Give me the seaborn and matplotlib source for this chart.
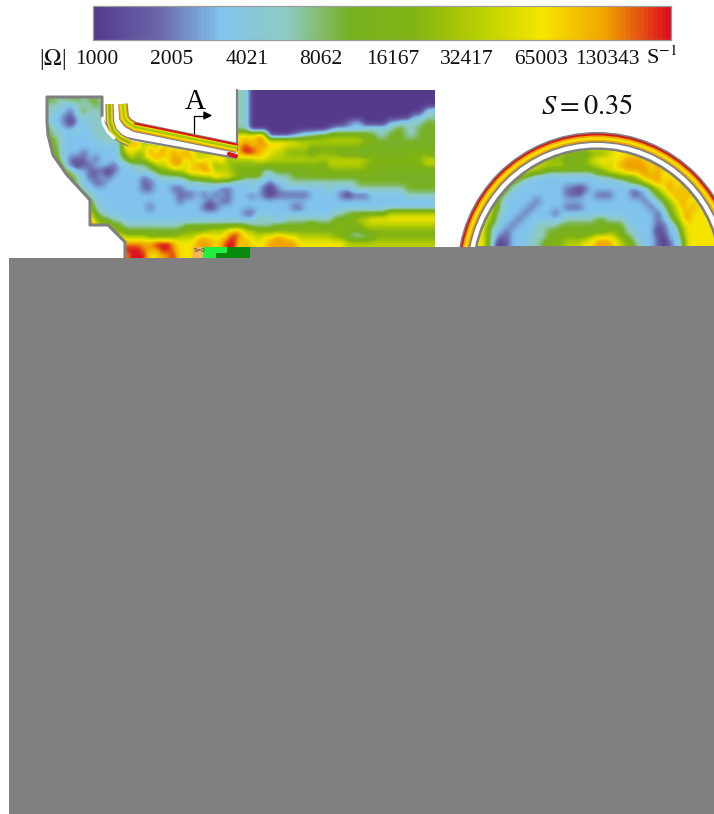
import numpy as np
import matplotlib
matplotlib.use('Agg')
import matplotlib.pyplot as plt
from matplotlib.colors import LinearSegmentedColormap
from matplotlib.patches import Circle, Polygon, Rectangle
import seaborn as sns

sns.set_theme(style="white")
plt.rcParams['font.family'] = ['Liberation Serif', 'DejaVu Serif']
plt.rcParams['mathtext.fontset'] = 'stix'

W, H = 714, 814

# vorticity levels: 0 = 1000 s-1 ... 9 = above 130343 s-1
tick_labels = ['1000', '2005', '4021', '8062', '16167', '32417', '65003', '130343']
tick_x = [97, 172, 247, 321, 393, 467, 541, 607]

section_rows = [
    "33333 33333 33333 33333 33333 33333 33330 00000 00000 00000 00000 00000 00000",
    "44344 43443 33333 33333 33333 33333 33330 00000 00000 00000 00000 00000 00000",
    "33322 33343 33333 33333 33333 33333 33330 00000 00000 00000 00000 00000 00000",
    "33221 34333 33333 33333 33333 33333 33330 00000 00000 00000 00000 00000 00023",
    "32211 23233 33333 33333 33333 33333 33330 00000 00000 00000 00000 00000 02233",
    "32210 22333 33333 33333 33333 33333 33330 00000 00000 00000 12200 00223 33344",
    "43222 32233 33333 33333 33333 33333 33330 00000 00000 00122 22233 33344 33444",
    "43322 22233 33388 77777 77777 77777 77777 88000 01233 44555 55544 33444 33444",
    "54322 22223 33378 75555 77777 77777 77787 88777 77666 66666 66655 44444 44444",
    "54322 22222 22387 86868 77777 77777 77898 88777 66665 55555 55544 44444 44444",
    "65322 21222 22367 56878 78787 66677 77899 87766 55554 55554 44435 44444 55554",
    "76321 11212 22346 56787 78878 67778 56666 77666 66666 66666 66665 55555 55566",
    "77521 01122 21223 33466 78867 88756 65555 55555 55555 54666 66655 55555 55566",
    "87643 22111 01222 33345 56678 78866 65555 53344 44445 55555 55555 44444 44444",
    "87654 32112 12222 21223 33345 66687 76544 43233 34444 44444 44444 44444 44444",
    "99865 32211 22222 21122 22223 23333 32222 22122 33333 33333 33444 44444 44444",
    "99976 43222 22222 21122 21122 22221 12223 21012 22222 22322 23333 33333 44444",
    "99987 54322 22222 22222 22111 21212 12221 21011 11112 22221 01112 22222 33333",
    "99998 65432 22222 22222 22122 22121 12222 22222 22222 22222 22222 22222 22222",
    "99999 87532 22222 22122 22222 21012 22222 22222 21122 22222 22222 22222 22222",
    "99999 88743 22222 22222 22222 22222 22211 22222 22222 22233 44444 44666 66666",
    "99999 88854 43322 22222 22222 22222 22222 33322 33333 33344 45667 77777 77777",
    "99999 99975 54433 33333 33344 44444 44443 33344 44445 44455 55566 66666 66666",
    "99999 99987 65544 44444 44455 55666 78866 55555 55555 55555 44455 55555 55555",
    "99999 99998 87766 66555 55666 78777 89877 67788 77666 66655 43334 55555 55555",
    "99999 99999 98888 88899 98777 88878 99787 77888 88777 77777 66666 66666 66666",
    "99999 99999 99899 98889 98777 88878 99787 77888 88777 77777 66666 66666 66666",
    "99999 99999 99789 99778 89777 88878 99787 77888 88777 77777 66666 66666 66666",
]

cross_rows = [
    "77777 77777 77777 77777 77777 77777 77777 77777 777",
    "77777 77777 77777 77777 77777 77777 77777 77777 777",
    "77777 77777 77777 77777 77777 77777 77777 77777 777",
    "77777 77777 77777 66655 44555 67777 77777 77777 777",
    "77777 77777 66666 55544 55677 77788 87877 77777 777",
    "77777 77777 77666 66655 55667 67888 88787 77777 777",
    "77777 77777 77665 44444 44455 77788 88787 77777 777",
    "66666 67766 54322 22222 22233 34555 78887 77877 777",
    "55555 77644 32222 22222 22222 22234 46787 87788 777",
    "55555 77643 22222 22211 01222 22221 22467 87877 777",
    "55555 66432 22222 22211 12211 12221 12346 78787 777",
    "66666 66322 22212 22222 22222 22222 21234 67877 777",
    "77777 75322 22122 22211 12222 22222 22123 56878 777",
    "77777 74322 21222 21222 22222 22222 22212 46787 777",
    "77777 64222 12222 22233 33344 33322 22212 35787 777",
    "77777 53221 22233 33444 44444 44432 22211 23677 777",
    "77777 42212 22233 44444 44444 55433 22201 22577 777",
    "77777 42112 22333 44555 55677 76543 22210 22477 777",
    "77777 41012 22334 55566 67788 87654 32210 12377 777",
]

# outlines in picture pixels
domain_x = [47, 47, 48, 53, 67, 90, 90, 108, 125, 125, 435, 435, 237, 237, 118, 108, 102, 102]
domain_y = [96, 122, 135, 155, 175, 200, 225, 225, 242, 258, 258, 90, 90, 158, 139, 131, 118, 96]
wall_x = [125, 125, 108, 90, 90, 67, 53, 48, 47, 47, 102, 102, 108, 116]
wall_y = [258, 242, 225, 225, 200, 175, 155, 135, 122, 97, 97, 118, 131, 139]
outer_x = [122.5, 124, 128, 135, 237]
outer_y = [104, 118, 123, 127, 148]
inner_x = [109.5, 110, 113, 120, 130]
inner_y = [104, 122, 131, 138, 143]


def to_field(rows):
    return np.array([[int(c) for c in r.replace(' ', '')] for r in rows], dtype=float)


section = to_field(section_rows)
cross = to_field(cross_rows)

colours = ['#553a8c', '#6a66aa', '#82c5ee', '#8fcbc4', '#78b020', '#80b414',
           '#b8cf02', '#f5e600', '#f0a400', '#dc1020']
omega = LinearSegmentedColormap.from_list('omega', colours, N=128)

fig = plt.figure(figsize=(W / 100, H / 100), dpi=100, facecolor='white')


def px_axes(x0, y0, x1, y1, **kw):
    return fig.add_axes([x0 / W, 1 - y1 / H, (x1 - x0) / W, (y1 - y0) / H], **kw)


overlay = px_axes(0, 0, W, H, zorder=5)
overlay.set_xlim(0, W)
overlay.set_ylim(H, 0)
overlay.axis('off')
overlay.patch.set_alpha(0)

# section view, colour bar comes with the heatmap
ax1 = px_axes(45, 90, 435, 258)
cax = px_axes(93, 6, 671, 40)
sns.heatmap(section, ax=ax1, cmap=omega, vmin=0, vmax=9, cbar_ax=cax,
            cbar_kws={'orientation': 'horizontal'}, xticklabels=False, yticklabels=False)
cax.set_xticks([])
for side in cax.spines.values():
    side.set_visible(True)
    side.set_edgecolor('#9a9a9a')
    side.set_linewidth(0.8)
smooth1 = ax1.imshow(section, cmap=omega, vmin=0, vmax=9, aspect='auto', interpolation='bicubic',
                     extent=(0, section.shape[1], section.shape[0], 0), zorder=3)
domain = Polygon(np.column_stack([domain_x, domain_y]), transform=overlay.transData)
ax1.collections[0].set_clip_path(domain)
smooth1.set_clip_path(domain)
ax1.axis('off')

# cross section A
ax2 = px_axes(456, 132, 714, 246)
sns.heatmap(cross, ax=ax2, cmap=omega, vmin=0, vmax=9, cbar=False, xticklabels=False, yticklabels=False)
smooth2 = ax2.imshow(cross, cmap=omega, vmin=0, vmax=9, aspect='auto', interpolation='bicubic',
                     extent=(0, cross.shape[1], cross.shape[0], 0), zorder=3)
disc = Circle((597, 272), 122, transform=overlay.transData)
ax2.collections[0].set_clip_path(disc)
smooth2.set_clip_path(disc)
ax2.axis('off')
ax2.set_zorder(6)

# rings of the cross section, outside to inside
rings = [(140, '#808080'), (138.4, '#d8141c'), (136.6, '#f0a000'), (134.8, '#f3e000'),
         (132.2, '#f0a800'), (130.6, '#808080'), (129, 'white'), (124.6, '#808080')]
for r, c in rings:
    overlay.add_patch(Circle((597, 272), r, facecolor=c, edgecolor='none', zorder=1))

# walls of the section view
overlay.plot(wall_x, wall_y, color='#808080', lw=2.2, solid_joinstyle='round', zorder=3)
overlay.plot([237, 237], [90, 150], color='#808080', lw=1.6, zorder=3)
for lw, c in [(7.4, '#808080'), (6.0, '#e8a000'), (4.2, '#f0e000'), (1.8, '#a8c808')]:
    overlay.plot(outer_x, outer_y, color=c, lw=lw, solid_capstyle='butt', zorder=3)
overlay.plot([135, 237], [123.6, 144.6], color='#d8141c', lw=1.4, zorder=3)
overlay.plot([116.5, 117.5, 124, 136, 236], [104, 120, 131, 137, 155.5], color='white', lw=2.4, zorder=3)
overlay.plot([127, 136, 236], [138, 140, 158], color='#808080', lw=1.6, zorder=3)
for lw, c in [(6.0, '#808080'), (4.4, '#f0d000'), (1.8, '#90b810')]:
    overlay.plot(inner_x, inner_y, color=c, lw=lw, solid_capstyle='butt', zorder=3)
overlay.plot([102.5, 103.5, 108, 114], [118, 124, 132, 138], color='white', lw=2.2, zorder=3)
overlay.plot([229, 236], [154, 156], color='#d8141c', lw=3, zorder=3)

# section marker
overlay.plot([194, 194, 207], [133, 115.5, 115.5], color='black', lw=0.9, zorder=4)
overlay.annotate('', xy=(215, 115.5), xytext=(203, 115.5), zorder=4,
                 arrowprops=dict(arrowstyle='-|>', color='black', lw=1.0, mutation_scale=12))
overlay.text(195, 102, 'A', fontsize=21, ha='center', va='center', color='black', zorder=4)
overlay.text(587, 108, r'$S=0.35$', fontsize=20.5, ha='center', va='center', color='#111111', zorder=4)

# colour bar labels
for x, label in zip(tick_x, tick_labels):
    overlay.text(x, 60, label, fontsize=15.5, ha='center', va='center', color='#111111')
overlay.text(53, 60, r'|$\Omega$|', fontsize=17, ha='center', va='center', color='#111111')
overlay.text(662, 58, r'S$^{-1}$', fontsize=16, ha='center', va='center', color='#111111')

# grey block over the lower part of the page
grey_top = fig.add_axes([0, 0, 1, 1], zorder=8)
grey_top.set_xlim(0, W)
grey_top.set_ylim(H, 0)
grey_top.axis('off')
grey_top.patch.set_alpha(0)
grey_top.add_patch(Rectangle((9, 258), W - 9, H - 258, color='#808080', lw=0))
grey_top.add_patch(Rectangle((250, 247), W - 250, 11, color='#808080', lw=0))
grey_top.add_patch(Rectangle((193, 247), 10, 11, color='#f2b45e', lw=0))
grey_top.add_patch(Rectangle((203, 247), 24, 11, color='#22f040', lw=0))
grey_top.add_patch(Rectangle((216, 253), 34, 5, color='#0b8a10', lw=0))
grey_top.add_patch(Rectangle((227, 247), 23, 6, color='#0b8a10', lw=0))
grey_top.text(199, 250, 'S=0', fontsize=4, family='DejaVu Sans', ha='center', va='center', color='#333333')

fig.savefig('out.png', dpi=100)
